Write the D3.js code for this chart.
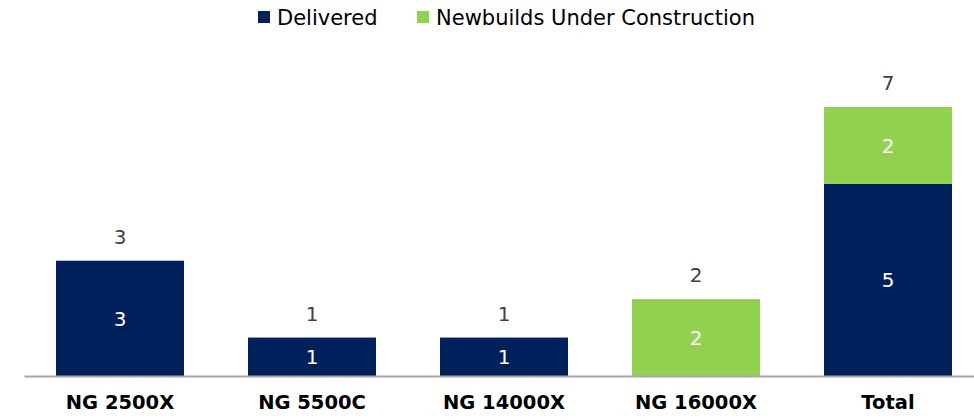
<!DOCTYPE html>
<html><head><meta charset="utf-8">
<script src="https://cdn.jsdelivr.net/npm/d3@7"></script>
<style>body{margin:0;background:#fff}svg{display:block}text{font-family:"DejaVu Sans",sans-serif}</style>
</head><body><svg id="c" width="974" height="420"></svg>
<script>
const categories = ["NG 2500X","NG 5500C","NG 14000X","NG 16000X","Total"];
const delivered = [3,1,1,0,5];
const newbuilds = [0,0,0,2,2];
const seriesNames = ["Delivered","Newbuilds Under Construction"];
const colors = ["#00205B","#92D050"];

const svg = d3.select("#c");
const x = d3.scaleBand().domain(categories).range([24,984]).paddingInner(1/3).paddingOuter(1/6);
const y = d3.scaleLinear().domain([0,7]).range([376,107]);

const data = categories.map((c,i)=>({cat:c, Delivered:delivered[i], "Newbuilds Under Construction":newbuilds[i]}));
const stack = d3.stack().keys(seriesNames)(data);

stack.forEach((s,si)=>{
  const g = svg.append("g");
  s.forEach(d=>{
    const v = d[1]-d[0];
    if(v<=0) return;
    g.append("rect").attr("x",x(d.data.cat)).attr("width",x.bandwidth())
      .attr("y",y(d[1])).attr("height",y(d[0])-y(d[1])).attr("fill",colors[si]);
    g.append("text").attr("x",x(d.data.cat)+x.bandwidth()/2).attr("y",(y(d[0])+y(d[1]))/2)
      .attr("dy","0.36em").attr("text-anchor","middle").attr("fill","#fff").attr("font-size",20).text(v);
  });
});
// totals
data.forEach((d,i)=>{
  const t = delivered[i]+newbuilds[i];
  svg.append("text").attr("x",x(d.cat)+x.bandwidth()/2).attr("y",y(t)-24)
    .attr("dy","0.36em").attr("text-anchor","middle").attr("fill","#404040").attr("font-size",20).text(t);
});
// axis
const ax = svg.append("g").attr("transform","translate(0,376)").call(d3.axisBottom(x).tickSize(0).tickPadding(19));
ax.select(".domain").attr("stroke","#A6A6A6").attr("stroke-width",2);
ax.selectAll("text").attr("font-size",19.5).attr("font-weight","bold").attr("fill","#000").style("font-family","'DejaVu Sans',sans-serif");

// legend
const leg = [{x:258,tx:277},{x:417,tx:436}];
seriesNames.forEach((n,i)=>{
  svg.append("rect").attr("x",leg[i].x).attr("y",11).attr("width",12).attr("height",12).attr("fill",colors[i]);
  svg.append("text").attr("x",leg[i].tx).attr("y",17).attr("dy","0.36em").attr("font-size",21).attr("fill","#000").text(n);
});
</script></body></html>
